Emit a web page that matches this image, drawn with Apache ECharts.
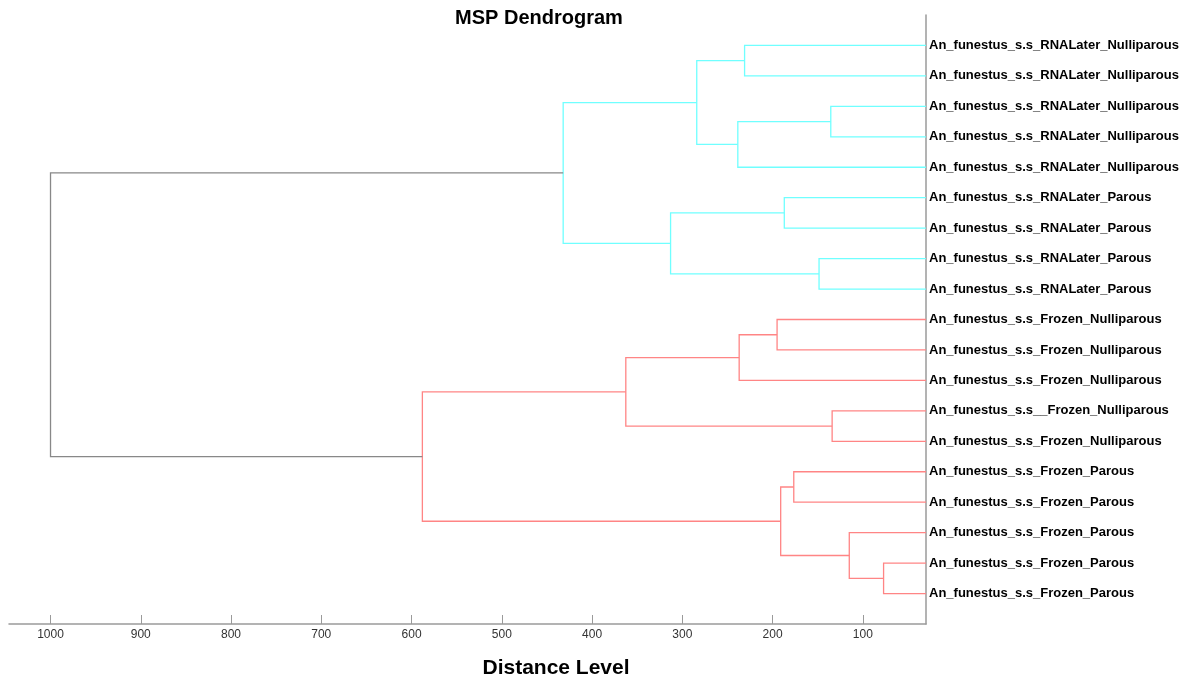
<!DOCTYPE html>
<html>
<head>
<meta charset="utf-8">
<title>MSP Dendrogram</title>
<script src="https://cdn.jsdelivr.net/npm/echarts@6/dist/echarts.min.js"></script>
<style>
  html, body { margin: 0; padding: 0; background: #fff; }
  #chart { width: 1200px; height: 682px; }
</style>
</head>
<body>
<div id="chart"></div>
<script>
// leaves, top to bottom (leaf i sits at y = i)
var leafLabels = [
  'An_funestus_s.s_RNALater_Nulliparous',
  'An_funestus_s.s_RNALater_Nulliparous',
  'An_funestus_s.s_RNALater_Nulliparous',
  'An_funestus_s.s_RNALater_Nulliparous',
  'An_funestus_s.s_RNALater_Nulliparous',
  'An_funestus_s.s_RNALater_Parous',
  'An_funestus_s.s_RNALater_Parous',
  'An_funestus_s.s_RNALater_Parous',
  'An_funestus_s.s_RNALater_Parous',
  'An_funestus_s.s_Frozen_Nulliparous',
  'An_funestus_s.s_Frozen_Nulliparous',
  'An_funestus_s.s_Frozen_Nulliparous',
  'An_funestus_s.s__Frozen_Nulliparous',
  'An_funestus_s.s_Frozen_Nulliparous',
  'An_funestus_s.s_Frozen_Parous',
  'An_funestus_s.s_Frozen_Parous',
  'An_funestus_s.s_Frozen_Parous',
  'An_funestus_s.s_Frozen_Parous',
  'An_funestus_s.s_Frozen_Parous'
];

// linkage: node ids 1..19 are leaves, merge k creates node 20+k
var mergeLeft   = [1, 3, 21, 20, 6, 8, 24, 23, 10, 28, 13, 29, 15, 18, 17, 32, 31, 27];
var mergeRight  = [2, 4, 5, 22, 7, 9, 25, 26, 11, 12, 14, 30, 16, 19, 33, 34, 35, 36];
var mergeHeight = [231, 135.5, 238.5, 284, 187, 148.5, 313, 432, 195, 237, 134, 362.6, 176.5, 77, 115, 191, 588, 1000];
var mergeGroup  = [0, 0, 0, 0, 0, 0, 0, 0, 1, 1, 1, 1, 1, 1, 1, 1, 1, 2];

var xTicks = [100, 200, 300, 400, 500, 600, 700, 800, 900, 1000];

var groupColors = ['#70ffff', '#ff8585', '#888888'];
var nLeaf = leafLabels.length;

// node positions from the linkage
var nodeY = {}, nodeH = {};
for (var i = 1; i <= nLeaf; i++) { nodeY[i] = i; nodeH[i] = 0; }
var links = [];
for (var k = 0; k < mergeLeft.length; k++) {
  var a = mergeLeft[k], b = mergeRight[k], id = nLeaf + 1 + k;
  nodeY[id] = (nodeY[a] + nodeY[b]) / 2;
  nodeH[id] = mergeHeight[k];
  links.push([mergeHeight[k], nodeY[a], nodeY[b], nodeH[a], nodeH[b], mergeGroup[k]]);
}

var chart = echarts.init(document.getElementById('chart'));
var option = {
  backgroundColor: '#fff',
  animation: false,
  title: [{
    text: 'MSP Dendrogram',
    left: 534, top: 3, textAlign: 'center',
    textStyle: { fontFamily: 'Liberation Sans', fontSize: 20, fontWeight: 'bold', color: '#000' }
  }, {
    text: 'Distance Level',
    left: 551, top: 653, textAlign: 'center',
    textStyle: { fontFamily: 'Liberation Sans', fontSize: 21, fontWeight: 'bold', color: '#000' }
  }],
  grid: { left: 9, right: 274, top: 15, bottom: 58, containLabel: false },
  xAxis: {
    type: 'value',
    position: 'bottom',
    inverse: true,
    min: 30, max: 1046,
    axisLine: { show: true, onZero: false, lineStyle: { color: '#9a9a9a', width: 1.5 } },
    axisTick: { show: true, inside: true, length: 9, customValues: xTicks, lineStyle: { color: '#9a9a9a' } },
    axisLabel: {
      customValues: xTicks, margin: 5,
      fontFamily: 'Liberation Sans', fontSize: 12, color: '#333',
      formatter: function (v) { return String(v); }
    },
    splitLine: { show: false }
  },
  yAxis: {
    type: 'value',
    inverse: true,
    position: 'right',
    min: 0, max: nLeaf + 1, interval: 1,
    axisLine: { show: true, onZero: false, lineStyle: { color: '#9a9a9a', width: 1.5 } },
    axisTick: { show: false },
    splitLine: { show: false },
    axisLabel: {
      margin: 3,
      padding: [3, 0, 0, 0],
      fontFamily: 'Liberation Sans', fontSize: 13, fontWeight: 'bold', color: '#000',
      formatter: function (v) { return leafLabels[v - 1] || ''; }
    }
  },
  series: [{
    type: 'custom',
    clip: true,
    encode: { x: [0, 3, 4], y: [1, 2] },
    data: links,
    renderItem: function (params, api) {
      var h = api.value(0), yA = api.value(1), yB = api.value(2);
      var hA = api.value(3), hB = api.value(4);
      var pts = [
        api.coord([hA, yA]),
        api.coord([h, yA]),
        api.coord([h, yB]),
        api.coord([hB, yB])
      ];
      return {
        type: 'polyline',
        shape: { points: pts },
        style: { stroke: groupColors[api.value(5)], fill: null, lineWidth: 1.3 }
      };
    }
  }]
};
chart.setOption(option);
</script>
</body>
</html>
